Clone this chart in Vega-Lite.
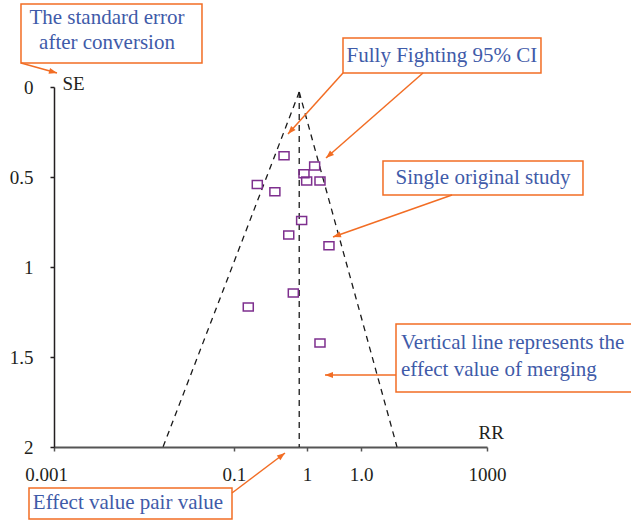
{
  "$schema": "https://vega.github.io/schema/vega-lite/v6.json",
  "width": 433,
  "height": 360,
  "autosize": {"type": "none"},
  "padding": {"left": 54, "top": 87, "right": 144, "bottom": 80},
  "background": "white",
  "config": {"view": {"stroke": null}, "font": "Liberation Serif"},
  "datasets": {
    "studies": [
      {"RR": 1.54, "SE": 0.382},
      {"RR": 4.09, "SE": 0.439},
      {"RR": 2.91, "SE": 0.482},
      {"RR": 0.656, "SE": 0.541},
      {"RR": 3.17, "SE": 0.522},
      {"RR": 4.85, "SE": 0.522},
      {"RR": 1.15, "SE": 0.582},
      {"RR": 2.70, "SE": 0.741},
      {"RR": 1.79, "SE": 0.822},
      {"RR": 6.46, "SE": 0.882},
      {"RR": 2.07, "SE": 1.144},
      {"RR": 0.492, "SE": 1.222},
      {"RR": 4.85, "SE": 1.422}
    ],
    "funnel": [
      {"RR": 2.5, "SE": 0.028, "RR2": 0.0324, "SE2": 2},
      {"RR": 2.5, "SE": 0.028, "RR2": 56.6, "SE2": 2},
      {"RR": 2.5, "SE": 0.028, "RR2": 2.5, "SE2": 2}
    ],
    "boxes": [
      {"RR": 0.0003488, "RR2": 0.11236, "SE": -0.4611, "SE2": -0.1333},
      {"RR": 10.106, "RR2": 5598, "SE": -0.2722, "SE2": -0.0778},
      {"RR": 36.2, "RR2": 21380, "SE": 0.4111, "SE2": 0.6},
      {"RR": 54.83, "RR2": 131800, "SE": 1.3167, "SE2": 1.6944},
      {"RR": 0.0004503, "RR2": 0.2927, "SE": 2.2278, "SE2": 2.4}
    ],
    "arrows": [
      {"RR": 0.0003488, "SE": -0.1333, "RR2": 0.0011003, "SE2": -0.0778, "angle": 105.5},
      {"RR": 10.106, "SE": -0.0778, "RR2": 1.747, "SE2": 0.2611, "angle": 222.0},
      {"RR": 129.7, "SE": -0.0778, "RR2": 5.873, "SE2": 0.3944, "angle": 228.8},
      {"RR": 327.2, "SE": 0.6, "RR2": 7.343, "SE2": 0.8333, "angle": 250.6},
      {"RR": 54.83, "SE": 1.6, "RR2": 5.69, "SE2": 1.6, "angle": 270},
      {"RR": 0.2927, "SE": 2.2556, "RR2": 1.588, "SE2": 2.0333, "angle": 53.0}
    ],
    "textsCenter": [
      {"RR": 0.005425, "SE": -0.3833, "label": "The standard error"},
      {"RR": 0.005425, "SE": -0.2444, "label": "after conversion"},
      {"RR": 237.8, "SE": -0.1722, "label": "Fully Fighting 95% CI"},
      {"RR": 879.7, "SE": 0.5056, "label": "Single original study"},
      {"RR": 0.0106, "SE": 2.3111, "label": "Effect value pair value"}
    ],
    "textsLeft": [
      {"RR": 64.31, "SE": 1.4222, "label": "Vertical line represents the"},
      {"RR": 64.31, "SE": 1.5722, "label": "effect value of merging"}
    ]
  },
  "layer": [
    {
      "data": {"name": "funnel"},
      "mark": {"type": "rule", "color": "#1a1a1a", "strokeWidth": 1.3, "strokeDash": [6, 5]},
      "encoding": {
        "x": {
          "field": "RR", "type": "quantitative",
          "scale": {"type": "log", "domain": [0.001, 1000], "nice": false},
          "axis": {
            "values": [0.001, 0.312, 3.205, 17.95, 1000],
            "labelExpr": "datum.value < 0.01 ? '0.001' : datum.value < 1 ? '0.1' : datum.value < 10 ? '1' : datum.value < 100 ? '1.0' : '1000'",
            "labelOffset": {"condition": {"test": "datum.value < 0.01", "value": -8}, "value": 0},
            "labelFlush": false,
            "labelOverlap": false,
            "labelFont": "Liberation Serif",
            "labelFontSize": 19,
            "labelColor": "#231F20",
            "labelPadding": 14,
            "domainColor": "#555555",
            "domainWidth": 2,
            "tickColor": "#555555",
            "tickWidth": 1.5,
            "tickSize": 4,
            "grid": false,
            "title": "RR",
            "titleFont": "Liberation Serif",
            "titleFontSize": 19,
            "titleFontWeight": "normal",
            "titleColor": "#231F20",
            "titleX": 424,
            "titleY": -15,
            "titleAlign": "left",
            "titleBaseline": "middle"
          }
        },
        "y": {
          "field": "SE", "type": "quantitative",
          "scale": {"domain": [0, 2], "reverse": true, "nice": false, "zero": false},
          "axis": {
            "values": [0, 0.5, 1, 1.5, 2],
            "format": "~g",
            "labelFont": "Liberation Serif",
            "labelFontSize": 19,
            "labelColor": "#231F20",
            "labelPadding": 17,
            "domainColor": "#231F20",
            "domainWidth": 1.5,
            "tickColor": "#231F20",
            "tickWidth": 1.5,
            "tickSize": 4,
            "grid": false,
            "title": "SE",
            "titleFont": "Liberation Serif",
            "titleFontSize": 19,
            "titleFontWeight": "normal",
            "titleColor": "#231F20",
            "titleAngle": 0,
            "titleX": 8,
            "titleY": -4,
            "titleAlign": "left",
            "titleBaseline": "middle"
          }
        },
        "x2": {"field": "RR2"},
        "y2": {"field": "SE2"}
      }
    },
    {
      "data": {"name": "studies"},
      "mark": {"type": "point", "shape": "M-1,-0.8L1,-0.8L1,0.8L-1,0.8Z", "size": 100, "filled": false, "stroke": "#7E2F8E", "strokeWidth": 1.5, "opacity": 1},
      "encoding": {
        "x": {"field": "RR", "type": "quantitative"},
        "y": {"field": "SE", "type": "quantitative"}
      }
    },
    {
      "data": {"name": "boxes"},
      "mark": {"type": "rect", "fill": "white", "stroke": "#F26D24", "strokeWidth": 1.5},
      "encoding": {
        "x": {"field": "RR", "type": "quantitative"},
        "x2": {"field": "RR2"},
        "y": {"field": "SE", "type": "quantitative"},
        "y2": {"field": "SE2"}
      }
    },
    {
      "data": {"name": "arrows"},
      "mark": {"type": "rule", "color": "#F26D24", "strokeWidth": 1.5},
      "encoding": {
        "x": {"field": "RR", "type": "quantitative"},
        "x2": {"field": "RR2"},
        "y": {"field": "SE", "type": "quantitative"},
        "y2": {"field": "SE2"}
      }
    },
    {
      "data": {"name": "arrows"},
      "mark": {"type": "point", "shape": "M0,0L0.6,1.6L-0.6,1.6Z", "size": 100, "filled": true, "color": "#F26D24", "opacity": 1},
      "encoding": {
        "x": {"field": "RR2", "type": "quantitative"},
        "y": {"field": "SE2", "type": "quantitative"},
        "angle": {"field": "angle", "type": "quantitative", "scale": null}
      }
    },
    {
      "data": {"name": "textsCenter"},
      "mark": {"type": "text", "font": "Liberation Serif", "fontSize": 21, "color": "#3F5BA9", "align": "center", "baseline": "middle"},
      "encoding": {
        "x": {"field": "RR", "type": "quantitative"},
        "y": {"field": "SE", "type": "quantitative"},
        "text": {"field": "label"}
      }
    },
    {
      "data": {"name": "textsLeft"},
      "mark": {"type": "text", "font": "Liberation Serif", "fontSize": 21, "color": "#3F5BA9", "align": "left", "baseline": "middle"},
      "encoding": {
        "x": {"field": "RR", "type": "quantitative"},
        "y": {"field": "SE", "type": "quantitative"},
        "text": {"field": "label"}
      }
    }
  ]
}
